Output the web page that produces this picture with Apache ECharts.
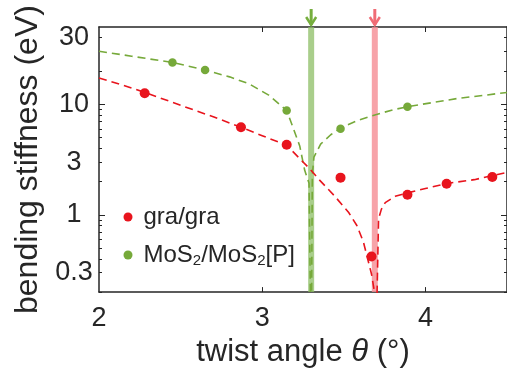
<!DOCTYPE html>
<html><head><meta charset="utf-8">
<script src="https://cdn.jsdelivr.net/npm/echarts@6/dist/echarts.min.js"></script>
<style>html,body{margin:0;padding:0;background:#fff}#c{width:507px;height:373px}</style>
</head><body><div id="c"></div>
<script>
// ---- data ----
const redTheta   = [2.28, 2.87, 3.15, 3.48, 3.67, 3.89, 4.13, 4.41];
const redValue   = [12.6, 6.2, 4.3, 2.17, 0.42, 1.52, 1.91, 2.2];
const greenTheta = [2.45, 2.65, 3.15, 3.48, 3.89];
const greenValue = [23.9, 20.4, 8.8, 6.0, 9.5];

const redFitTheta = [2.00, 2.14, 2.28, 2.50, 2.70, 2.87, 3.00, 3.15, 3.29, 3.35, 3.44, 3.53, 3.58, 3.62, 3.67, 3.688, 3.695, 3.700, 3.704, 3.713, 3.73, 3.754, 3.815, 3.89, 4.00, 4.13, 4.30, 4.50];
const redFitValue = [17.3, 15.0, 12.8, 9.8, 7.7, 6.2, 5.2, 4.25, 2.62, 2.07, 1.50, 1.05, 0.80, 0.57, 0.29, 0.2, 0.05, 0.05, 0.2, 0.92, 1.12, 1.29, 1.47, 1.58, 1.73, 1.92, 2.08, 2.42];

const greenFitTheta = [2.00, 2.20, 2.45, 2.65, 2.80, 2.92, 3.04, 3.15, 3.19, 3.23, 3.26, 3.287, 3.295, 3.299, 3.301, 3.303, 3.307, 3.317, 3.358, 3.42, 3.48, 3.58, 3.69, 3.80, 3.89, 4.05, 4.20, 4.35, 4.50];
const greenFitValue = [30.2, 27.2, 23.9, 20.4, 17.7, 15.3, 12.1, 8.8, 6.1, 4.2, 2.54, 1.93, 0.2, 0.05, 0.05, 0.2, 2.3, 3.33, 4.36, 5.3, 6.1, 7.1, 8.0, 8.9, 9.5, 10.4, 11.3, 12.0, 12.8];

const greenCritical = [3.30];
const redCritical = [3.69];

const xTicks = [3, 4];
const xLabels = [2, 3, 4];
const yLabels = [0.3, 1, 3, 10, 30];
const yMinorTicks = [0.2, 0.3, 0.4, 0.5, 0.6, 0.7, 0.8, 0.9, 2, 3, 4, 5, 6, 7, 8, 9, 20, 30, 40];
const yMajorTicks = [1, 10];

const X_MIN = 2, X_MAX = 4.5, Y_MIN = 0.2, Y_MAX = 50;

const zip = (a, b) => a.map((v, i) => [v, b[i]]);

const RED = '#e8141d', GREEN = '#76a93a';
const FONT = 'Liberation Sans, Arial, sans-serif';
const TXT = '#262626';

function bandRenderer(bandColor, arrowColor) {
  return function (params, api) {
    const cs = params.coordSys;
    const x = api.coord([api.value(0), Y_MAX])[0];
    const top = cs.y, h = cs.height;
    return {
      type: 'group',
      children: [
        { type: 'rect', shape: { x: x - 3, y: top, width: 6, height: h }, style: { fill: bandColor } },
        { type: 'line', shape: { x1: x, y1: top - 18, x2: x, y2: top - 2 }, style: { stroke: arrowColor, lineWidth: 3 } },
        { type: 'polyline', shape: { points: [[x - 5, top - 10], [x, top - 2], [x + 5, top - 10]] }, style: { stroke: arrowColor, lineWidth: 2.5, fill: null } }
      ]
    };
  };
}

const axisLineStyle = { color: TXT, width: 1.5 };

function yAxisDef(position, ticks, len, showLine, showLabel) {
  return {
    type: 'log', logBase: 10, min: Y_MIN, max: Y_MAX, position: position,
    axisLine: { show: showLine, lineStyle: axisLineStyle },
    axisTick: { show: true, inside: true, length: len, customValues: ticks, lineStyle: { color: TXT, width: 1 } },
    minorTick: { show: false },
    splitLine: { show: false },
    axisLabel: showLabel ? {
      customValues: yLabels, margin: 25, align: 'center', fontSize: 27, fontFamily: FONT, color: TXT,
      formatter: v => (v === 30 ? '{t|30}' : String(v)),
      rich: { t: { fontSize: 27, fontFamily: FONT, color: TXT, padding: [0, 0, 28, 0] } }
    } : { show: false },
    name: showLabel ? 'bending stiffness (eV)' : '',
    nameLocation: 'middle', nameRotate: 90, nameGap: 54,
    nameTextStyle: { fontSize: 32, fontFamily: FONT, color: TXT }
  };
}

const option = {
  animation: false,
  backgroundColor: '#fff',
  grid: { left: 99, top: 27, bottom: 76, right: -1, containLabel: false },
  legend: {
    orient: 'vertical', left: 118.5, top: 200,
    itemWidth: 21, itemHeight: 9, itemGap: 14, icon: 'circle',
    data: ['gra/gra', 'MoS2/MoS2[P]'],
    formatter: name => name === 'gra/gra' ? '{a|gra/gra}' : '{a|MoS}{s|2}{a|/MoS}{s|2}{a|[P]}',
    textStyle: {
      fontSize: 24, fontFamily: FONT, color: TXT,
      rich: {
        a: { fontSize: 24, fontFamily: FONT, color: TXT, lineHeight: 26 },
        s: { fontSize: 15, fontFamily: FONT, color: TXT, lineHeight: 8, verticalAlign: 'bottom' }
      }
    }
  },
  xAxis: [
    {
      type: 'value', min: X_MIN, max: X_MAX, position: 'bottom',
      axisLine: { show: true, lineStyle: axisLineStyle },
      axisTick: { show: true, inside: true, length: 5, customValues: xTicks, lineStyle: { color: TXT, width: 1 } },
      splitLine: { show: false },
      axisLabel: { customValues: xLabels, margin: 13, fontSize: 27, fontFamily: FONT, color: TXT },
      name: '{n|twist angle }{i|θ}{n| (°)}', nameLocation: 'middle', nameGap: 39,
      nameTextStyle: {
        fontSize: 31, fontFamily: FONT, color: TXT,
        rich: { n: { fontSize: 31, fontFamily: FONT, color: TXT }, i: { fontSize: 31, fontFamily: FONT, color: TXT, fontStyle: 'italic' } }
      }
    },
    {
      type: 'value', min: X_MIN, max: X_MAX, position: 'top',
      axisLine: { show: true, lineStyle: axisLineStyle },
      axisTick: { show: true, inside: true, length: 5, customValues: xTicks, lineStyle: { color: TXT, width: 1 } },
      splitLine: { show: false },
      axisLabel: { show: false }
    }
  ],
  yAxis: [
    yAxisDef('left', yMinorTicks, 3, true, true),
    yAxisDef('left', yMajorTicks, 6, false, false),
    yAxisDef('right', yMinorTicks, 3, true, false),
    yAxisDef('right', yMajorTicks, 6, false, false)
  ],
  series: [
    {
      type: 'custom', name: 'greenBand', clip: false, silent: true, z: 1,
      data: greenCritical.map(v => [v]), renderItem: bandRenderer('rgba(140,190,100,0.75)', '#76ae3e')
    },
    {
      type: 'custom', name: 'redBand', clip: false, silent: true, z: 1,
      data: redCritical.map(v => [v]), renderItem: bandRenderer('rgba(245,140,148,0.8)', '#f06c75')
    },
    {
      type: 'line', name: 'greenFit', data: zip(greenFitTheta, greenFitValue), showSymbol: false, symbol: 'none', z: 3,
      lineStyle: { color: GREEN, width: 1.6, type: [8, 5] }, clip: true
    },
    {
      type: 'line', name: 'redFit', data: zip(redFitTheta, redFitValue), showSymbol: false, symbol: 'none', z: 3,
      lineStyle: { color: RED, width: 1.6, type: [8, 5] }, clip: true
    },
    {
      type: 'scatter', name: 'gra/gra', data: zip(redTheta, redValue), symbol: 'circle', symbolSize: 10, z: 4,
      itemStyle: { color: RED, opacity: 1 }
    },
    {
      type: 'scatter', name: 'MoS2/MoS2[P]', data: zip(greenTheta, greenValue), symbol: 'circle', symbolSize: 8.5, z: 4,
      itemStyle: { color: GREEN, opacity: 1 }
    }
  ]
};

const chart = echarts.init(document.getElementById('c'));
chart.setOption(option);
</script></body></html>
